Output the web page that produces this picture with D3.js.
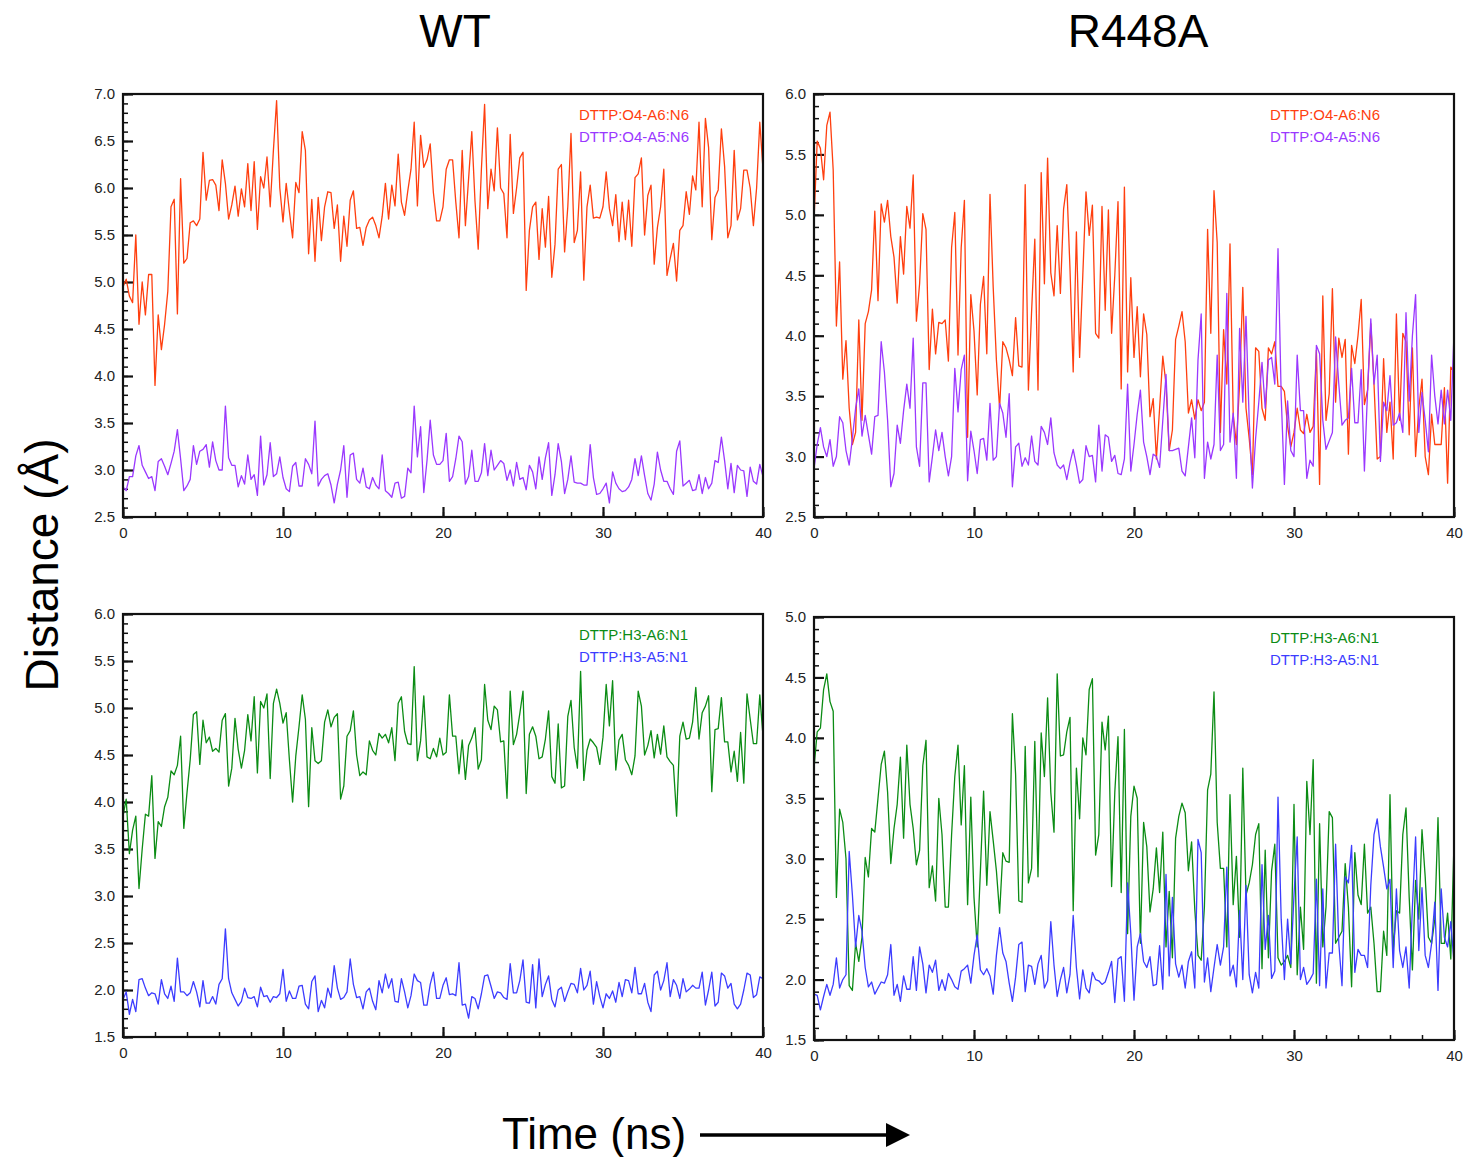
<!DOCTYPE html>
<html>
<head>
<meta charset="utf-8">
<script src="https://cdn.jsdelivr.net/npm/d3@7"></script>
<style>
  body { margin: 0; background: #fff; }
  svg text { font-family: "Liberation Sans", Arial, Helvetica, sans-serif; }
</style>
</head>
<body>
<svg id="vis" width="1466" height="1157"></svg>
<script>
// time axis: 0 - 40 ns, one frame every 0.2 ns
var timeMax = 40;
var xTicks = [0, 10, 20, 30, 40];

// WT, DTTP:O4-A6:N6
var wtO4A6 = [4.95,5.03,4.85,4.78,5.5,4.55,5.0,4.65,5.08,5.08,3.9,4.65,4.28,4.55,4.9,5.8,5.88,4.66,6.1,5.2,
  5.25,5.63,5.65,5.6,5.67,6.38,5.87,6.08,6.09,6.03,5.76,6.3,6.05,5.67,5.82,6.02,5.7,5.99,5.8,6.26,
  5.76,6.28,5.56,6.12,6.0,6.33,5.8,6.4,6.93,6.0,5.64,6.05,5.75,5.47,6.06,5.95,6.6,6.4,5.3,5.88,
  5.22,5.9,5.44,5.8,5.96,5.95,5.57,5.82,5.22,5.7,5.38,5.87,5.97,5.57,5.58,5.39,5.58,5.66,5.69,5.6,
  5.47,5.7,6.05,5.67,6.03,5.81,6.36,5.85,5.71,5.97,6.2,6.7,5.81,6.56,6.22,6.3,6.47,5.95,5.65,5.65,
  5.8,6.2,6.3,6.3,5.85,5.47,6.4,5.6,6.1,6.6,5.86,5.35,6.2,6.89,5.78,6.2,5.97,6.64,6.0,5.94,
  5.47,6.57,5.73,6.0,6.32,6.38,4.91,5.55,5.8,5.85,5.24,5.78,5.37,5.91,5.05,5.4,6.2,6.25,5.32,5.8,
  6.58,5.42,5.55,6.17,5.02,5.8,6.03,5.68,5.69,5.68,5.8,6.17,5.78,5.6,5.93,5.43,5.85,5.45,5.87,5.38,
  6.11,6.15,6.32,5.5,5.92,6.03,5.19,5.58,5.8,6.2,5.07,5.25,5.41,5.01,5.55,5.6,5.96,5.72,6.13,5.98,
  6.7,5.8,6.74,6.43,5.45,5.9,5.98,6.63,6.23,5.47,5.6,6.4,5.66,5.78,6.19,6.19,6.0,5.6,6.0,6.7,6.2];

// WT, DTTP:O4-A5:N6
var wtO4A5 = [2.82,2.78,2.93,2.93,3.15,3.26,3.05,2.98,2.91,2.93,2.78,3.09,3.12,3.04,2.95,3.07,3.2,3.43,3.12,2.78,
  2.83,2.9,3.26,3.06,3.2,3.22,3.27,3.03,3.3,3.1,3.0,3.0,3.68,3.13,3.05,3.05,2.82,2.94,2.85,3.16,
  2.9,2.95,2.73,3.36,2.84,2.95,3.29,2.93,2.96,3.14,2.92,2.8,2.77,3.04,3.08,2.83,2.83,3.12,3.06,2.96,
  3.52,2.83,2.9,2.94,2.96,2.84,2.65,2.85,3.0,3.26,2.71,3.16,3.18,2.9,2.86,3.02,2.82,2.8,2.92,2.84,
  2.8,3.16,2.78,2.75,2.71,2.86,2.87,2.7,2.72,3.02,2.97,3.68,3.14,3.46,2.76,3.1,3.53,3.16,3.06,3.06,
  3.1,3.39,2.88,2.93,3.12,3.36,3.3,2.85,2.93,3.21,2.88,2.88,2.97,3.28,2.94,3.21,3.0,3.05,3.1,3.07,
  2.89,3.0,2.83,3.08,2.9,2.92,2.79,3.05,2.98,2.8,3.14,2.9,3.13,3.29,2.73,2.95,3.28,3.09,2.75,2.9,
  3.15,2.87,2.86,2.86,2.84,2.84,3.27,2.92,2.74,2.75,2.8,2.86,2.65,2.98,2.86,2.8,2.77,2.78,2.82,2.9,
  3.12,2.94,3.15,2.94,2.75,2.68,2.85,3.19,3.0,2.88,2.88,2.8,2.74,3.2,3.31,2.83,2.86,2.89,2.78,2.79,
  2.95,2.75,2.92,2.8,2.86,3.1,3.08,3.35,3.1,2.8,3.07,2.76,3.05,3.0,2.99,2.72,3.03,2.88,2.85,3.06,2.93];

// R448A, DTTP:O4-A6:N6
var mutO4A6 = [4.95,5.61,5.55,5.29,5.74,5.85,5.37,4.08,4.61,3.64,3.96,3.4,3.1,3.2,4.13,3.3,4.1,4.2,4.38,5.03,
  4.29,5.09,4.94,5.12,4.82,4.65,4.27,4.82,4.51,5.07,4.89,5.33,4.12,4.43,5.01,4.88,3.72,4.22,3.85,4.11,
  4.1,4.13,3.79,4.73,5.02,3.84,4.73,5.12,3.16,4.34,4.04,3.51,4.26,4.49,3.85,5.17,4.4,3.8,3.4,3.95,
  3.9,3.8,3.67,4.15,3.75,3.74,5.25,3.55,4.2,4.8,3.55,5.35,4.43,5.47,4.52,4.33,4.91,4.35,5.05,5.25,
  4.55,3.7,4.86,3.82,4.5,5.19,4.83,5.08,4.02,3.98,5.07,4.21,5.04,4.02,4.5,5.11,3.56,5.23,3.7,4.48,
  3.82,4.24,3.66,4.18,4.01,3.33,3.48,2.98,3.4,3.83,3.6,3.05,3.22,3.97,4.08,4.2,3.95,3.36,3.47,3.31,
  3.47,3.38,3.45,4.88,4.02,5.2,4.77,3.2,4.05,3.6,4.76,3.35,3.1,3.6,4.4,3.4,3.15,2.85,3.9,3.87,
  3.4,3.3,3.9,3.85,3.95,3.58,3.58,3.54,3.25,3.08,3.2,3.4,3.22,3.19,3.35,3.2,3.25,3.88,2.77,4.33,
  3.3,3.52,4.39,3.45,3.98,3.82,3.97,3.02,3.92,3.77,4.0,4.3,3.43,3.55,4.1,3.6,2.98,3.0,3.81,3.2,
  3.45,2.98,4.18,3.3,4.02,3.95,3.18,3.9,3.0,3.4,3.64,3.0,2.85,3.35,3.1,3.1,3.1,3.57,2.78,3.74,3.7];

// R448A, DTTP:O4-A5:N6
var mutO4A5 = [2.9,3.1,3.24,3.08,3.0,3.14,2.92,3.0,3.33,3.28,3.05,2.93,3.15,3.4,3.56,3.17,3.34,3.18,3.02,3.33,
  3.34,3.95,3.7,3.3,2.75,2.86,3.26,3.11,3.38,3.6,3.4,3.98,3.08,2.92,3.61,3.61,2.79,3.0,3.22,3.05,
  3.2,3.0,2.84,3.0,3.73,3.37,3.72,3.84,2.8,3.21,3.05,2.86,3.14,3.15,2.97,3.44,2.97,3.0,3.44,3.36,
  3.16,3.52,2.75,3.08,3.11,2.92,2.99,2.93,3.17,2.96,2.93,3.25,3.2,3.1,3.32,3.03,2.93,2.9,2.93,2.81,
  2.95,3.06,2.93,2.78,2.81,3.09,3.0,3.01,2.79,3.26,2.88,3.18,3.16,2.96,3.01,2.86,2.85,2.98,3.6,2.88,
  3.1,3.35,3.55,3.12,3.0,2.85,3.02,3.0,2.91,3.3,3.68,3.05,3.05,3.06,3.07,2.88,2.84,3.08,3.32,2.99,
  3.8,4.18,2.82,3.12,2.98,3.1,3.84,3.05,3.1,4.35,3.12,3.36,2.82,4.06,3.45,4.16,3.3,2.74,3.15,3.45,
  3.78,3.4,3.8,3.82,3.6,4.72,3.5,2.77,3.46,3.05,3.0,3.84,3.38,3.38,2.82,2.97,2.92,3.92,3.85,3.3,
  3.06,3.13,3.2,3.99,3.6,3.26,3.3,3.32,3.73,3.28,3.28,3.72,2.88,3.55,4.14,3.6,3.84,2.96,3.45,3.38,
  3.67,3.26,3.28,3.36,3.2,4.19,3.46,4.0,4.34,3.2,3.53,3.3,3.04,3.84,3.5,3.27,3.55,3.27,3.55,3.3,4.02];

// WT, DTTP:H3-A6:N1
var wtH3A6 = [3.85,4.03,3.45,3.7,3.85,3.08,3.5,3.87,3.85,4.28,3.4,3.79,3.74,3.95,4.05,4.33,4.29,4.39,4.7,3.72,
  4.1,4.45,4.93,4.96,4.4,4.87,4.63,4.69,4.54,4.57,4.53,4.87,4.94,4.17,4.36,4.89,4.56,4.36,4.55,4.93,
  4.65,5.12,4.31,5.07,5.0,5.15,4.25,5.05,5.2,5.05,4.84,4.95,4.45,4.0,4.49,4.8,5.14,4.88,3.95,4.79,
  4.44,4.41,4.44,4.85,4.98,4.8,4.9,4.94,4.03,4.17,4.7,4.76,4.97,4.5,4.28,4.32,4.29,4.65,4.55,4.5,
  4.73,4.68,4.72,4.63,4.79,4.44,5.05,5.12,4.75,4.62,4.61,5.44,4.44,4.65,5.13,4.48,4.46,4.57,4.48,4.68,
  4.5,4.53,5.14,4.7,4.7,4.3,4.66,4.24,4.6,4.68,4.79,4.35,4.45,5.25,4.87,4.77,5.02,4.98,4.64,4.65,
  4.04,5.18,4.61,4.72,4.94,5.18,4.09,4.72,4.8,4.7,4.46,4.48,4.67,4.97,4.27,4.2,4.83,4.15,4.17,4.91,
  5.08,4.58,4.36,5.39,4.23,4.55,4.67,4.63,4.58,4.4,4.69,5.25,4.81,5.29,4.34,4.66,4.72,4.45,4.39,4.29,
  4.49,5.18,5.02,4.5,4.6,4.76,4.47,4.72,4.51,4.81,4.48,4.43,4.39,3.85,4.7,4.85,4.67,4.68,4.85,5.22,
  4.67,4.95,5.02,5.13,4.11,4.77,4.78,5.11,4.64,4.64,4.32,4.54,4.22,4.74,4.2,5.15,4.88,4.62,4.62,5.14,4.7];

// WT, DTTP:H3-A5:N1
var wtH3A5 = [1.9,1.98,1.74,1.9,1.77,2.11,2.12,2.02,1.94,1.97,1.96,1.85,2.11,1.96,1.91,2.04,1.88,2.34,1.98,1.98,
  1.94,1.97,2.09,1.98,1.82,2.1,1.86,1.86,1.93,1.85,2.06,2.12,2.65,2.12,1.97,1.9,1.83,1.88,2.02,1.92,
  1.91,1.93,1.82,2.03,1.93,1.94,1.87,1.93,1.92,1.96,2.22,1.88,1.99,1.91,1.91,2.04,2.05,1.85,1.8,2.09,
  2.15,1.77,1.89,1.81,2.02,1.92,2.26,2.02,1.9,1.92,1.98,2.33,2.06,1.92,1.93,1.8,1.98,2.02,1.88,1.79,
  2.1,1.97,2.17,2.02,2.12,1.88,1.87,2.12,1.98,1.81,1.94,2.17,2.1,2.08,1.84,1.84,2.06,2.19,1.91,1.91,
  2.05,2.13,1.95,1.96,1.94,2.29,1.84,1.85,1.7,1.93,1.91,1.8,1.96,2.15,2.16,2.04,1.91,1.98,1.97,1.92,
  1.9,2.28,1.97,1.97,2.1,2.32,1.87,1.86,2.27,1.81,2.33,1.93,2.06,2.15,1.9,1.82,2.0,2.03,1.88,1.98,
  2.07,2.06,1.97,2.23,2.0,2.05,2.2,1.85,2.09,1.93,1.81,1.96,1.91,1.99,1.87,2.08,1.93,2.11,2.1,1.97,
  2.24,1.96,1.96,2.07,1.87,1.77,2.16,2.2,2.0,2.1,2.29,1.93,2.11,2.05,1.91,2.12,1.98,2.01,2.05,2.02,
  2.02,2.19,1.84,2.0,2.19,1.83,1.87,2.18,2.15,2.02,2.07,1.85,1.8,1.85,2.0,2.18,2.16,1.92,1.95,2.14,2.12];

// R448A, DTTP:H3-A6:N1
var mutH3A6 = [3.75,4.05,4.08,4.4,4.53,4.3,4.22,2.68,3.41,3.3,3.0,1.95,1.91,2.3,2.15,2.35,3.01,2.85,3.25,3.22,
  3.5,3.78,3.89,3.55,2.96,3.25,3.45,3.84,3.17,3.94,3.45,3.25,2.95,3.07,3.77,3.98,2.76,2.94,2.65,3.5,
  3.2,2.6,2.6,3.2,3.68,3.94,3.28,3.77,2.62,3.51,2.68,2.27,2.9,3.56,2.78,3.39,3.15,2.9,2.55,3.05,
  2.98,2.97,4.2,3.7,2.65,2.64,3.93,2.8,2.92,3.97,2.85,4.04,3.68,4.33,3.55,3.22,4.53,3.85,3.86,4.05,
  4.17,2.57,3.75,3.33,4.0,3.86,4.4,4.49,3.03,3.2,4.13,3.9,4.18,2.77,3.55,4.01,2.72,4.07,2.38,3.35,
  3.6,3.5,2.3,3.3,3.1,2.56,2.75,3.09,2.72,3.22,2.27,2.73,2.18,3.17,3.35,3.46,3.38,2.9,3.14,2.58,
  2.2,2.16,2.6,3.57,3.7,4.38,3.3,2.92,2.92,2.27,3.53,2.62,3.02,2.35,3.75,2.7,2.8,2.95,3.2,3.29,
  2.09,3.07,2.18,2.9,3.12,2.18,2.12,2.15,2.2,2.1,3.45,2.04,2.6,2.25,3.64,3.2,3.82,1.97,3.29,2.27,
  2.6,3.39,3.34,2.3,2.35,2.4,2.96,2.6,1.94,3.05,2.7,2.62,3.12,2.55,2.6,2.3,1.9,1.9,2.4,2.2,
  3.53,2.25,2.57,2.55,3.2,3.42,2.68,2.08,2.82,2.5,3.24,2.85,2.35,2.3,2.5,3.34,2.3,2.3,2.55,2.17,3.13];

// R448A, DTTP:H3-A5:N1
var mutH3A5 = [1.88,1.87,1.75,1.86,1.96,1.87,1.96,2.18,1.93,2.0,2.04,3.06,2.7,2.27,2.53,2.4,2.1,1.94,1.98,1.88,
  1.93,1.98,1.97,2.04,2.29,1.87,1.96,1.82,2.03,1.92,1.92,2.19,1.91,2.27,2.13,1.89,2.12,2.06,2.16,1.91,
  2.0,1.91,2.05,2.0,1.94,1.92,2.07,2.09,2.12,1.97,2.2,2.37,2.08,2.04,2.09,2.03,1.88,2.2,2.43,2.22,
  2.15,1.97,1.82,2.02,2.29,2.31,1.9,2.12,2.11,1.96,2.13,2.2,1.93,1.99,2.48,2.12,1.86,2.0,2.1,1.89,
  2.04,2.53,2.1,1.84,2.08,1.93,1.89,2.06,2.0,1.99,1.96,1.98,2.06,2.15,1.81,2.17,2.19,1.82,2.8,2.38,
  1.83,2.27,2.38,2.15,2.1,2.19,1.95,1.96,2.28,1.92,2.87,2.03,2.68,2.13,2.02,2.12,1.93,2.15,2.23,1.93,
  3.16,3.05,1.98,2.18,1.9,2.1,2.29,2.12,2.27,2.93,2.03,2.12,1.94,2.57,2.0,2.78,2.04,1.89,2.06,1.93,
  2.95,2.25,2.53,2.01,2.07,3.51,2.5,2.0,2.5,2.13,2.7,3.18,2.0,2.1,1.96,2.0,2.05,2.83,1.95,2.75,
  1.93,2.22,2.22,3.12,2.3,1.95,2.85,2.8,3.11,2.06,2.25,2.2,2.2,2.1,2.78,3.2,3.33,3.1,2.93,2.75,
  2.83,2.1,2.75,2.24,2.1,2.27,1.93,2.6,3.18,2.24,2.76,2.2,2.1,2.3,2.64,1.91,2.75,2.35,2.27,2.48,2.14];

// y tick labels per panel
var yTicksWtO = [2.5, 3.0, 3.5, 4.0, 4.5, 5.0, 5.5, 6.0, 6.5, 7.0];
var yTicksMutO = [2.5, 3.0, 3.5, 4.0, 4.5, 5.0, 5.5, 6.0];
var yTicksWtH = [1.5, 2.0, 2.5, 3.0, 3.5, 4.0, 4.5, 5.0, 5.5, 6.0];
var yTicksMutH = [1.5, 2.0, 2.5, 3.0, 3.5, 4.0, 4.5, 5.0];

var colOrange = "#ff3f0f";
var colPurple = "#9a38ff";
var colGreen = "#0b8c14";
var colBlue = "#3c3cff";

var panels = [
    {left: 123, top: 94, yTicks: yTicksWtO,
     series: [{name: "DTTP:O4-A6:N6", values: wtO4A6, color: colOrange},
              {name: "DTTP:O4-A5:N6", values: wtO4A5, color: colPurple}]},
    {left: 814, top: 94, yTicks: yTicksMutO,
     series: [{name: "DTTP:O4-A6:N6", values: mutO4A6, color: colOrange},
              {name: "DTTP:O4-A5:N6", values: mutO4A5, color: colPurple}]},
    {left: 123, top: 614, yTicks: yTicksWtH,
     series: [{name: "DTTP:H3-A6:N1", values: wtH3A6, color: colGreen},
              {name: "DTTP:H3-A5:N1", values: wtH3A5, color: colBlue}]},
    {left: 814, top: 617, yTicks: yTicksMutH,
     series: [{name: "DTTP:H3-A6:N1", values: mutH3A6, color: colGreen},
              {name: "DTTP:H3-A5:N1", values: mutH3A5, color: colBlue}]}
];

var width = 640;
var height = 423;
var svg = d3.select("#vis");

panels.forEach(function (p) {
    var g = svg.append("g").attr("transform", "translate(" + p.left + "," + p.top + ")");
    var yExtent = d3.extent(p.yTicks);
    var x = d3.scaleLinear().domain([0, timeMax]).range([0, width]);
    var y = d3.scaleLinear().domain(yExtent).range([height, 0]);

    // minor ticks
    g.append("g")
        .attr("class", "minor")
        .call(d3.axisLeft(y).tickValues(d3.range(yExtent[0], yExtent[1] + 0.001, 0.1)).tickSize(-5).tickFormat(""));
    g.append("g")
        .attr("class", "minor")
        .attr("transform", "translate(0," + height + ")")
        .call(d3.axisBottom(x).tickValues(d3.range(0, timeMax + 0.001, 2)).tickSize(-5).tickFormat(""));

    // major ticks + labels
    g.append("g")
        .attr("class", "major")
        .call(d3.axisLeft(y).tickValues(p.yTicks).tickSize(-10).tickPadding(8).tickFormat(d3.format(".1f")));
    g.append("g")
        .attr("class", "major")
        .attr("transform", "translate(0," + height + ")")
        .call(d3.axisBottom(x).tickValues(xTicks).tickSize(-10).tickPadding(10).tickFormat(d3.format("d")));

    g.selectAll(".domain").remove();
    g.selectAll(".minor line").attr("stroke", "#111").attr("stroke-width", 1.5);
    g.selectAll(".major line").attr("stroke", "#111").attr("stroke-width", 2.2);
    g.selectAll(".major text")
        .style("font-size", "15px")
        .attr("fill", "#222");

    // lines
    p.series.forEach(function (s) {
        var n = s.values.length;
        var line = d3.line()
            .x(function (d, i) { return x(i * timeMax / (n - 1)); })
            .y(function (d) { return y(d); });
        g.append("path")
            .datum(s.values)
            .attr("fill", "none")
            .attr("stroke", s.color)
            .attr("stroke-width", 1.3)
            .attr("stroke-linejoin", "round")
            .attr("d", line);
    });

    // frame
    g.append("rect")
        .attr("width", width)
        .attr("height", height)
        .attr("fill", "none")
        .attr("stroke", "#111")
        .attr("stroke-width", 2.2);

    // legend
    p.series.forEach(function (s, i) {
        g.append("text")
            .attr("x", 456)
            .attr("y", 21 + i * 22)
            .attr("dy", "0.35em")
            .style("font-size", "15px")
            .attr("fill", s.color)
            .text(s.name);
    });
});

// titles
svg.append("text")
    .attr("x", 455).attr("y", 47)
    .attr("text-anchor", "middle")
    .style("font-size", "46px")
    .text("WT");
svg.append("text")
    .attr("x", 1138).attr("y", 47)
    .attr("text-anchor", "middle")
    .style("font-size", "46px")
    .text("R448A");
svg.append("text")
    .attr("transform", "translate(58,565) rotate(-90)")
    .attr("text-anchor", "middle")
    .style("font-size", "46px")
    .text("Distance (Å)");
svg.append("text")
    .attr("x", 594).attr("y", 1149)
    .attr("text-anchor", "middle")
    .style("font-size", "44px")
    .text("Time (ns)");

// arrow
svg.append("line")
    .attr("x1", 700).attr("y1", 1135)
    .attr("x2", 888).attr("y2", 1135)
    .attr("stroke", "#000")
    .attr("stroke-width", 3.5);
svg.append("path")
    .attr("d", "M886,1123 L910,1135 L886,1147 Z")
    .attr("fill", "#000");
</script>
</body>
</html>
